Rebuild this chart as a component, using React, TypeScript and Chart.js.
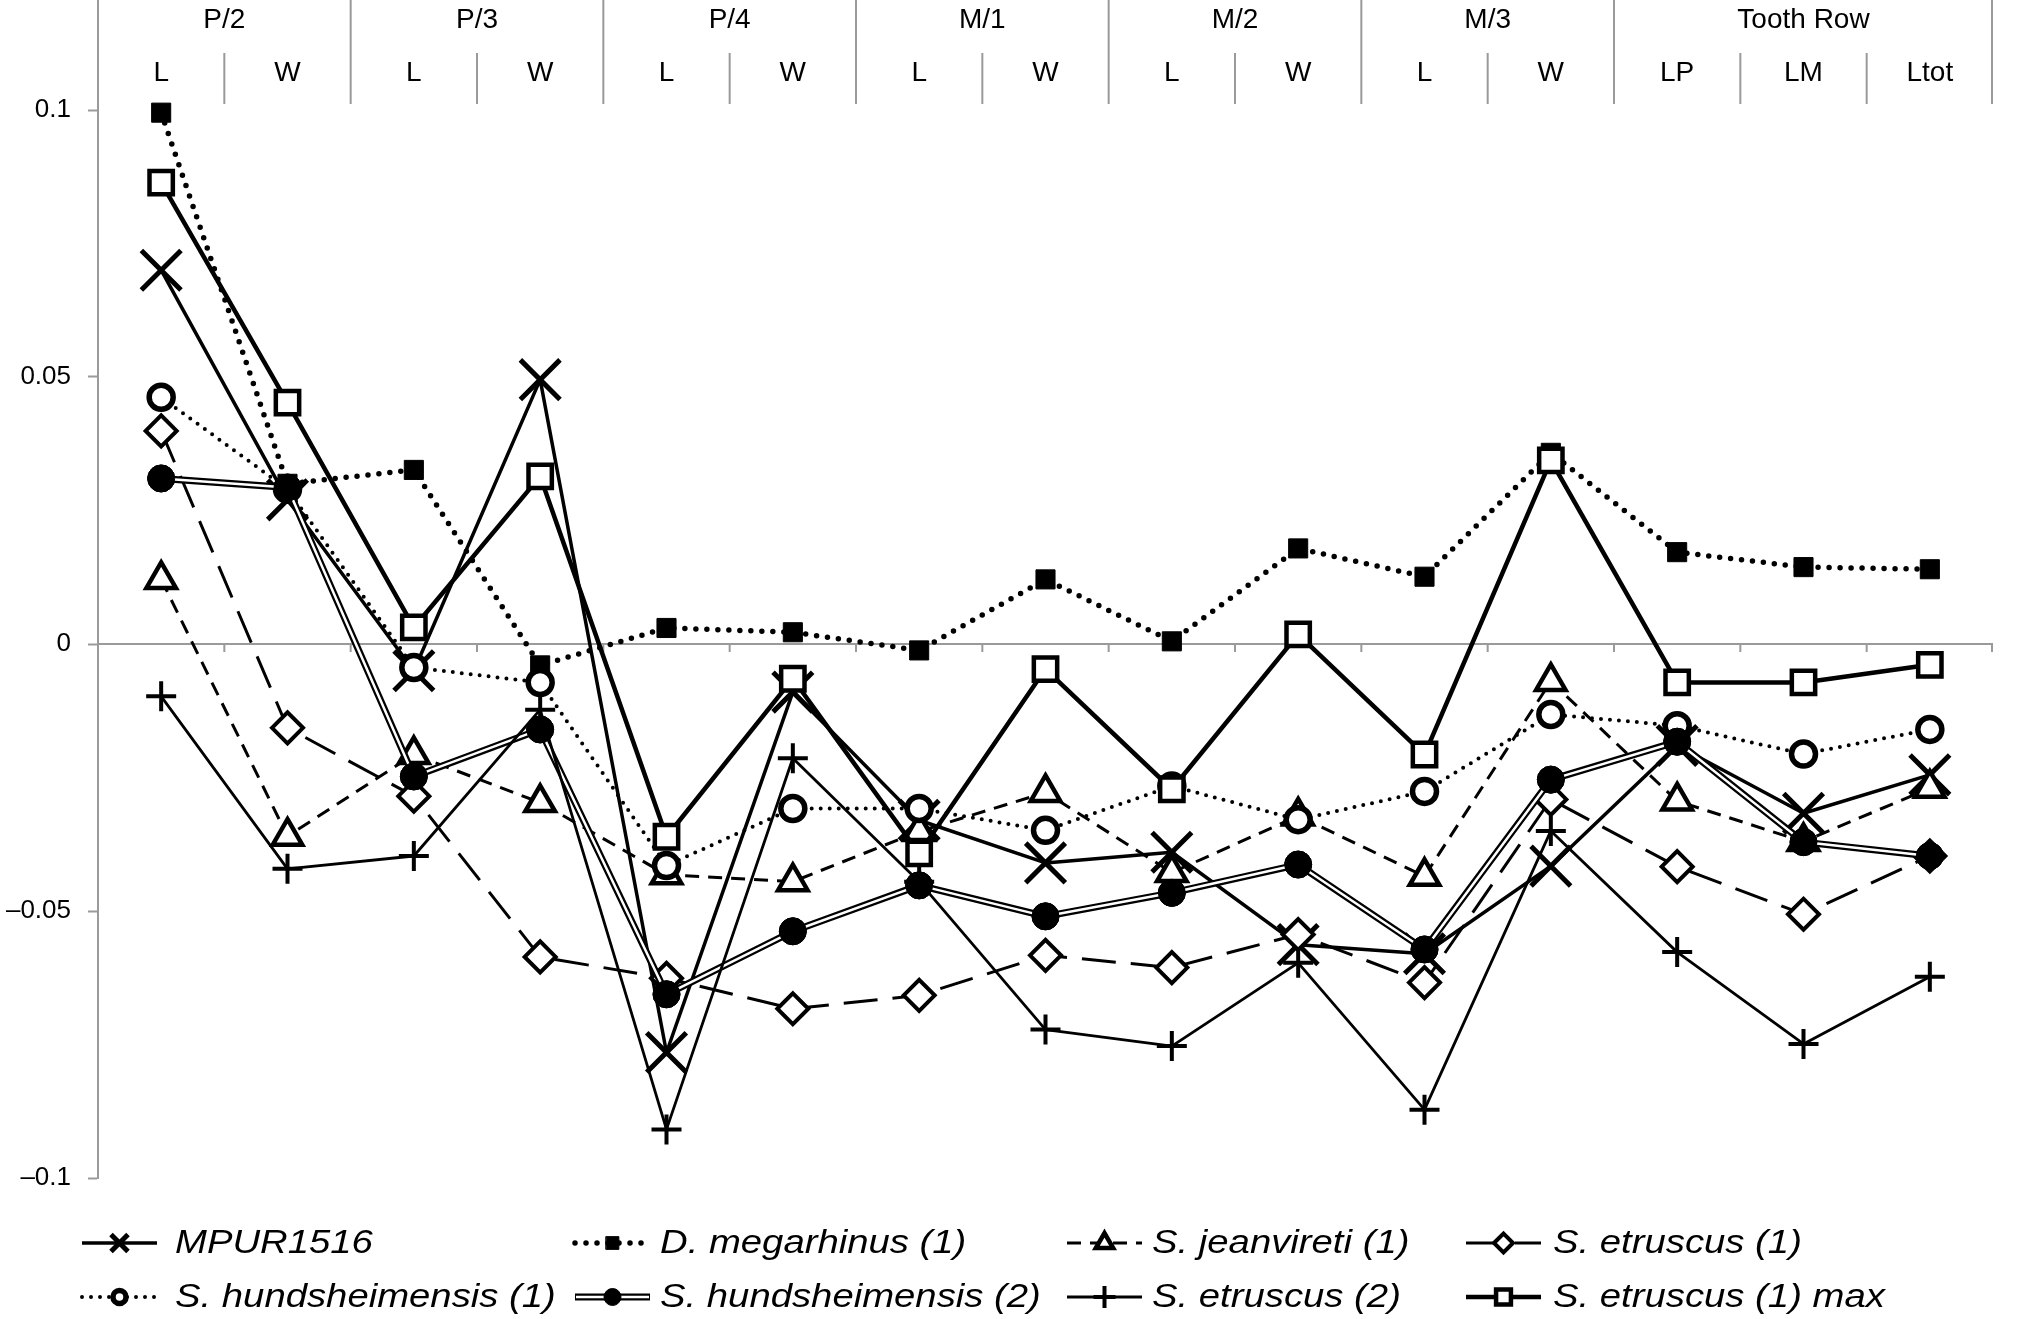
"use client";
import React, { useEffect, useRef } from "react";
import { Chart, registerables } from "chart.js";
import { drawPoint } from "chart.js/helpers";

Chart.register(...registerables);

const FONT = "'Liberation Sans', Arial, Helvetica, sans-serif";

// header rows
const groupLabels = ["P/2", "P/3", "P/4", "M/1", "M/2", "M/3", "Tooth Row"];
const groupSpans = [2, 2, 2, 2, 2, 2, 3];
const categories = ["L", "W", "L", "W", "L", "W", "L", "W", "L", "W", "L", "W", "LP", "LM", "Ltot"];

// y axis tick labels
const yTickValues = [0.1, 0.05, 0, -0.05, -0.1];

const seriesNames = [
  "MPUR1516",
  "D. megarhinus (1)",
  "S. jeanvireti (1)",
  "S. etruscus (1)",
  "S. hundsheimensis (1)",
  "S. hundsheimensis (2)",
  "S. etruscus (2)",
  "S. etruscus (1) max",
];

const mpur1516 = [0.070, 0.027, -0.005, 0.0495, -0.0765, -0.009, -0.033, -0.041, -0.039, -0.0563, -0.058, -0.0416, -0.019, -0.0317, -0.0245];
const dMegarhinus = [0.0995, 0.030, 0.0326, -0.004, 0.003, 0.0022, -0.0012, 0.0121, 0.0005, 0.0179, 0.0126, 0.0358, 0.0172, 0.0144, 0.014];
const sJeanvireti = [0.0121, -0.036, -0.0207, -0.0297, -0.0432, -0.0445, -0.0351, -0.0278, -0.0428, -0.0322, -0.0435, -0.007, -0.0294, -0.037, -0.027];
const sEtruscus1 = [0.0399, -0.0157, -0.0285, -0.0586, -0.0626, -0.0683, -0.0658, -0.0583, -0.0606, -0.0544, -0.0634, -0.0291, -0.0417, -0.0506, -0.0397];
const sHundsheimensis1 = [0.0462, 0.029, -0.0044, -0.0072, -0.0415, -0.0308, -0.0308, -0.0349, -0.0266, -0.0329, -0.0276, -0.0132, -0.0153, -0.0206, -0.016];
const sHundsheimensis2 = [0.031, 0.0293, -0.0248, -0.016, -0.0656, -0.0538, -0.0452, -0.051, -0.0466, -0.0413, -0.0572, -0.0254, -0.0183, -0.0371, -0.0397];
const sEtruscus2 = [-0.0098, -0.0421, -0.0397, -0.0123, -0.0909, -0.0214, -0.0445, -0.0722, -0.0753, -0.0597, -0.0872, -0.035, -0.0577, -0.0749, -0.0623];
const sEtruscus1Max = [0.0864, 0.0452, 0.0031, 0.0314, -0.0361, -0.0065, -0.0392, -0.0047, -0.0272, 0.0018, -0.0207, 0.0344, -0.0072, -0.0072, -0.0039];

const seriesData = [mpur1516, dMegarhinus, sJeanvireti, sEtruscus1, sHundsheimensis1, sHundsheimensis2, sEtruscus2, sEtruscus1Max];

type Look = {
  style: string;
  radius: number;
  legendRadius: number;
  pointBorder: number;
  fill: string;
  width: number;
  dash: number[];
  cap: CanvasLineCap;
  double?: boolean;
};

const looks: Look[] = [
  { style: "crossRot", radius: 28, legendRadius: 12, pointBorder: 5, fill: "#000", width: 3.5, dash: [], cap: "butt" },
  { style: "rect", radius: 13.5, legendRadius: 9, pointBorder: 1, fill: "#000", width: 5.5, dash: [0, 11], cap: "round" },
  { style: "triangle", radius: 17, legendRadius: 10, pointBorder: 4.5, fill: "#fff", width: 3, dash: [14, 9], cap: "butt" },
  { style: "rectRot", radius: 15.5, legendRadius: 9.5, pointBorder: 4, fill: "#fff", width: 3, dash: [34, 15], cap: "butt" },
  { style: "circle", radius: 12, legendRadius: 6.5, pointBorder: 5.5, fill: "#fff", width: 4, dash: [0, 9], cap: "round" },
  { style: "circle", radius: 13.5, legendRadius: 8.5, pointBorder: 1, fill: "#000", width: 7, dash: [], cap: "butt", double: true },
  { style: "cross", radius: 15, legendRadius: 11, pointBorder: 4, fill: "#000", width: 2.8, dash: [], cap: "butt" },
  { style: "rect", radius: 16.5, legendRadius: 10.5, pointBorder: 4.5, fill: "#fff", width: 4.5, dash: [], cap: "butt" },
];

const GRAY = "#9a9a9a";
const legendCols = [82, 575, 1067, 1466];
const legendTextX = [175, 660, 1152, 1553];
const legendRows = [1243, 1297];

const fmtTick = (v: number) => {
  const r = Math.round(v * 100) / 100;
  if (r === 0) return "0";
  return (r < 0 ? "\u2013" : "") + String(Math.abs(r));
};

const boundaryX = (chart: Chart, k: number) => {
  const { left, right } = chart.chartArea;
  return left + ((right - left) * k) / categories.length;
};

const doubleLinePlugin = {
  id: "doubleLine",
  afterDatasetDraw(chart: any, args: any) {
    if (!looks[args.index].double) return;
    const ctx = chart.ctx;
    const pts = args.meta.data;
    ctx.save();
    ctx.strokeStyle = "#fff";
    ctx.lineWidth = 2.5;
    ctx.lineJoin = "round";
    ctx.beginPath();
    pts.forEach((p: any, j: number) => (j ? ctx.lineTo(p.x, p.y) : ctx.moveTo(p.x, p.y)));
    ctx.stroke();
    ctx.restore();
    pts.forEach((p: any) => p.draw(ctx, chart.chartArea));
  },
};

const framePlugin = {
  id: "frame",
  beforeDatasetsDraw(chart: any) {
    const ctx = chart.ctx;
    const { left, right } = chart.chartArea;
    const y0 = chart.scales.y.getPixelForValue(0);
    ctx.save();
    ctx.strokeStyle = GRAY;
    ctx.lineWidth = 2;
    ctx.beginPath();
    ctx.moveTo(left, y0);
    ctx.lineTo(right, y0);
    for (let k = 1; k <= categories.length; k++) {
      const x = Math.min(boundaryX(chart, k), right - 1);
      ctx.moveTo(x, y0);
      ctx.lineTo(x, y0 + 8);
    }
    ctx.stroke();
    ctx.restore();
  },
  afterDraw(chart: any) {
    const ctx = chart.ctx;
    const { top, right } = chart.chartArea;
    const groupStarts: number[] = [];
    let acc = 0;
    groupSpans.forEach((s) => {
      groupStarts.push(acc);
      acc += s;
    });
    ctx.save();
    ctx.strokeStyle = GRAY;
    ctx.lineWidth = 2;
    ctx.beginPath();
    for (let k = 0; k <= categories.length; k++) {
      const x = Math.min(boundaryX(chart, k), right - 1);
      const isGroup = groupStarts.includes(k) || k === categories.length;
      ctx.moveTo(x, isGroup ? 0 : 53);
      ctx.lineTo(x, k === 0 ? top : 104);
    }
    ctx.stroke();

    ctx.fillStyle = "#000";
    ctx.font = `28px ${FONT}`;
    ctx.textAlign = "center";
    ctx.textBaseline = "middle";
    groupLabels.forEach((g, i) => {
      const a = boundaryX(chart, groupStarts[i]);
      const b = boundaryX(chart, groupStarts[i] + groupSpans[i]);
      ctx.fillText(g, (a + b) / 2, 20);
    });
    categories.forEach((c, i) => {
      const x = chart.scales.x.getPixelForValue(i);
      ctx.fillText(c, x, 73);
    });
    ctx.restore();

    // legend
    seriesNames.forEach((name, i) => {
      const look = looks[i];
      const col = i % 4;
      const row = Math.floor(i / 4);
      const x0 = legendCols[col];
      const x1 = x0 + 75;
      const y = legendRows[row];
      ctx.save();
      ctx.strokeStyle = "#000";
      ctx.lineWidth = look.width;
      ctx.lineCap = look.cap;
      ctx.setLineDash(look.dash);
      ctx.beginPath();
      ctx.moveTo(x0, y);
      ctx.lineTo(x1, y);
      ctx.stroke();
      if (look.double) {
        ctx.strokeStyle = "#fff";
        ctx.lineWidth = 2.5;
        ctx.beginPath();
        ctx.moveTo(x0 + 1, y);
        ctx.lineTo(x1 - 1, y);
        ctx.stroke();
      }
      ctx.setLineDash([]);
      ctx.strokeStyle = "#000";
      ctx.fillStyle = look.fill;
      ctx.lineWidth = look.pointBorder;
      drawPoint(ctx, { pointStyle: look.style as any, radius: look.legendRadius, rotation: 0, borderWidth: look.pointBorder }, (x0 + x1) / 2, y);
      ctx.fillStyle = "#000";
      ctx.font = `italic 33px ${FONT}`;
      ctx.textAlign = "left";
      ctx.textBaseline = "middle";
      ctx.translate(legendTextX[col], y + 1);
      ctx.scale(1.16, 1);
      ctx.fillText(name, 0, 0);
      ctx.restore();
    });
  },
};

const App = () => {
  const canvasRef = useRef<HTMLCanvasElement>(null);
  const chartRef = useRef<Chart | null>(null);

  useEffect(() => {
    document.body.style.margin = "0";
    if (!canvasRef.current) return;
    Chart.defaults.font.family = FONT;
    const datasets = seriesData.map((data, i) => {
      const look = looks[i];
      return {
        label: seriesNames[i],
        data,
        order: -i,
        clip: false as any,
        borderColor: "#000",
        borderWidth: look.width,
        borderDash: look.dash,
        borderCapStyle: look.cap,
        borderJoinStyle: "round" as CanvasLineJoin,
        tension: 0,
        fill: false,
        pointStyle: look.style as any,
        pointRadius: look.radius,
        pointHoverRadius: look.radius,
        pointBorderWidth: look.pointBorder,
        pointHoverBorderWidth: look.pointBorder,
        pointBorderColor: "#000",
        // last S. etruscus (1) marker is drawn filled in the original
        pointBackgroundColor: i === 3 ? data.map((_, j) => (j === data.length - 1 ? "#000" : "#fff")) : look.fill,
      };
    });

    chartRef.current = new Chart(canvasRef.current, {
      type: "line",
      data: { labels: categories, datasets },
      options: {
        responsive: true,
        maintainAspectRatio: false,
        animation: false,
        events: [],
        layout: { padding: { top: 110, bottom: 141, left: 0, right: 0 } },
        scales: {
          x: { type: "category", offset: true, display: false },
          y: {
            min: -0.1,
            max: 0.1,
            afterFit: (s: any) => {
              s.width = 98;
            },
            afterBuildTicks: (s: any) => {
              s.ticks = yTickValues.map((v) => ({ value: v }));
            },
            border: { display: true, color: GRAY, width: 2 },
            grid: { drawOnChartArea: false, drawTicks: true, tickLength: 10, tickColor: GRAY, tickWidth: 2 },
            ticks: {
              padding: 17,
              color: "#000",
              font: { size: 26, family: FONT },
              crossAlign: "near",
              callback: (v: any) => fmtTick(Number(v)),
            },
          },
        },
        plugins: {
          legend: { display: false },
          tooltip: { enabled: false },
        },
      },
      plugins: [framePlugin, doubleLinePlugin],
    });

    return () => {
      if (chartRef.current) {
        chartRef.current.destroy();
        chartRef.current = null;
      }
    };
  }, []);

  return (
    <div style={{ width: 2026, height: 1319, background: "#fff" }}>
      <canvas ref={canvasRef} />
    </div>
  );
};

export default App;
